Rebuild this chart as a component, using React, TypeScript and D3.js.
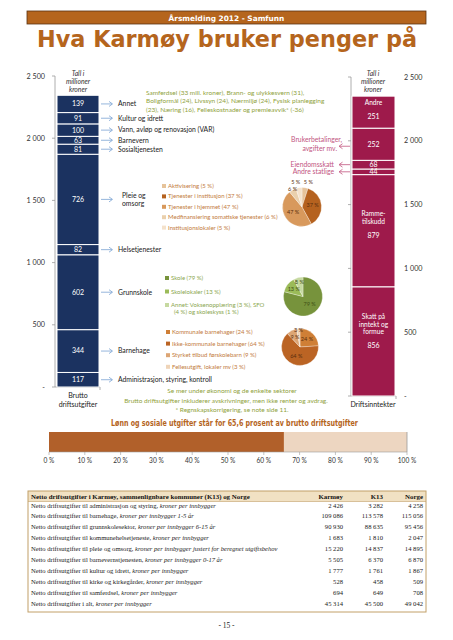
import React from "react";
import * as d3 from "d3";

// ---------- DATA ----------
const leftCategories = [
  "Administrasjon, styring, kontroll",
  "Barnehage",
  "Grunnskole",
  "Helsetjenester",
  "Pleie og\nomsorg",
  "Sosialtjenesten",
  "Barnevern",
  "Vann, avløp og renovasjon (VAR)",
  "Kultur og idrett",
  "Annet",
];
const leftValues = [117, 344, 602, 82, 726, 81, 63, 100, 91, 139];

const rightCategories = [
  "Skatt på\ninntekt og\nformue",
  "Ramme-\ntilskudd",
  "Andre statlige",
  "Eiendomsskatt",
  "Brukerbetalinger,\navgifter mv.",
  "Andre",
];
const rightValues = [856, 879, 44, 68, 252, 251];
const rightInside = [true, true, false, false, false, true];

const axisTicks = [0, 500, 1000, 1500, 2000, 2500];

const annetText = [
  "Samferdsel (33 mill. kroner), Brann- og ulykkesvern (31),",
  "Boligformål (24),  Livssyn (24), Nærmiljø (24), Fysisk planlegging",
  "(23), Næring (16), Felleskostnader og premieavvik* (-36)",
];

const pleieLabels = [
  "Aktivisering (5 %)",
  "Tjenester i institusjon (37 %)",
  "Tjenester i hjemmet (47 %)",
  "Medfinansiering somatiske tjenester (6 %)",
  "Institusjonslokaler (5 %)",
];
const pleieValues = [5, 37, 47, 6, 5];
const pleieColors = ["#e6c39a", "#b5621f", "#d8995c", "#ead0ad", "#f4e2cc"];

const skoleLabels = [
  "Skole (79 %)",
  "Skolelokaler (13 %)",
  "Annet: Voksenopplæring (3 %), SFO\n(4 %) og skoleskyss (1 %)",
];
const skoleValues = [79, 13, 8];
const skoleColors = ["#77933c", "#9bbb59", "#c6d9a0"];

const bhgLabels = [
  "Kommunale barnehager (24 %)",
  "Ikke-kommunale barnehager (64 %)",
  "Styrket tilbud førskolebarn (9 %)",
  "Fellesutgift, lokaler mv (3 %)",
];
const bhgValues = [24, 64, 9, 3];
const bhgColors = ["#cf7f36", "#bb6424", "#dca574", "#efd4b8"];

const notes = [
  "Se mer under økonomi og de enkelte sektorer",
  "Brutto driftsutgifter  inkluderer avskrivninger, men ikke renter og avdrag.",
  "* Regnskapskorrigering, se note side 11.",
];

const salaryShare = 0.656;
const percentTicks = [0, 0.1, 0.2, 0.3, 0.4, 0.5, 0.6, 0.7, 0.8, 0.9, 1];

const tableHeader = ["Netto driftsutgifter i Karmøy, sammenlignbare kommuner (K13) og Norge", "Karmøy", "K13", "Norge"];
const rowMain = [
  "Netto driftsutgifter til administrasjon og styring, ",
  "Netto driftsutgifter til barnehage, ",
  "Netto driftsutgifter til grunnskolesektor, ",
  "Netto driftsutgifter til kommunehelsetjeneste, ",
  "Netto driftsutgifter til pleie og omsorg, ",
  "Netto driftsutgifter til barnevernstjenesten, ",
  "Netto driftsutgifter til kultur og idrett, ",
  "Netto driftsutgifter til kirke og kirkegårder, ",
  "Netto driftsutgifter til samferdsel, ",
  "Netto driftsutgifter i alt, ",
];
const rowUnit = [
  "kroner per innbygger",
  "kroner per innbygger 1-5 år",
  "kroner per innbygger 6-15 år",
  "kroner per innbygger",
  "kroner per innbygger justert for beregnet utgiftsbehov",
  "kroner per innbygger 0-17 år",
  "kroner per innbygger",
  "kroner per innbygger",
  "kroner per innbygger",
  "kroner per innbygger",
];
const karmoy = [2426, 109086, 90930, 1683, 15220, 5505, 1777, 528, 694, 45314];
const k13 = [3282, 113578, 88635, 1810, 14837, 6370, 1761, 458, 649, 45500];
const norge = [4258, 115056, 95456, 2047, 14895, 6870, 1867, 509, 708, 49042];

// ---------- STYLE ----------
const LATO = "Lato, 'Open Sans', sans-serif";
const DJ = "'DejaVu Sans', Verdana, sans-serif";
const SERIF = "'Liberation Serif', 'Times New Roman', serif";
const BROWN = "#b5651d";
const NAVY = "#1b3260";
const CRIMSON = "#9e1a4b";
const GREEN_TXT = "#8fa23c";
const PINK = "#c2557f";
const ARROW_BLUE = "#7ba3d3";

const fmt = (n: number) => d3.format(",")(n).replace(/,/g, "\u00a0");

function stackSegs(values: number[]) {
  const ends = Array.from(d3.cumsum(values));
  return values.map((v, i) => ({ v, i, y0: ends[i] - v, y1: ends[i] }));
}

function Pie({ cx, cy, r, values, colors, textColor, smallOutside }: any) {
  const pie = d3.pie<number>().sort(null).value((d) => d);
  const arcs = pie(values);
  const arc = d3.arc<any>().innerRadius(0).outerRadius(r);
  return (
    <g transform={`translate(${cx},${cy})`}>
      {arcs.map((a, i) => (
        <path key={i} d={arc(a) as string} fill={colors[i]} stroke="#fff" strokeWidth={0.3} />
      ))}
      {arcs.map((a, i) => {
        const v = a.data as number;
        let x: number, y: number;
        if (smallOutside && v <= 6) {
          const rr = v <= 5 ? r + 5 : r;
          const c = d3.arc<any>().innerRadius(rr).outerRadius(rr).centroid(a);
          x = c[0] + (v <= 5 ? Math.sign(c[0]) * 2.5 : 0);
          y = c[1];
        } else {
          const rr = v <= 3 ? r * 0.88 : v <= 8 ? r * 0.75 : v < 15 ? r * 0.6 : r * 0.55;
          const c = d3.arc<any>().innerRadius(rr).outerRadius(rr).centroid(a);
          x = c[0];
          y = c[1];
        }
        return (
          <text key={"t" + i} x={x} y={y} textAnchor="middle" dominantBaseline="middle"
            fontFamily={LATO} fontSize={5.5} fill={textColor}>
            {v} %
          </text>
        );
      })}
    </g>
  );
}

function Legend({ x, y, step, labels, colors, textColor }: any) {
  let yy = y;
  return (
    <g>
      {labels.map((lab: string, i: number) => {
        const lines = lab.split("\n");
        const y0 = yy;
        yy += step + (lines.length - 1) * 7;
        return (
          <g key={i}>
            <rect x={x} y={y0 - 4} width={4} height={4} fill={colors[i]} />
            {lines.map((ln, j) => (
              <text key={j} x={x + 6 + (j > 0 ? 3 : 0)} y={y0 + j * 7} fontFamily={LATO} fontSize={6} fill={textColor}>
                {ln}
              </text>
            ))}
          </g>
        );
      })}
    </g>
  );
}

export default function App() {
  const yL = d3.scaleLinear().domain([0, 2500]).range([387, 76]);
  const yR = d3.scaleLinear().domain([0, 2500]).range([396, 77]);
  const leftSegs = stackSegs(leftValues);
  const rightSegs = stackSegs(rightValues);
  const xP = d3.scaleLinear().domain([0, 1]).range([49, 407]);

  const LBX0 = 57, LBX1 = 99, LAX = 55;
  const RBX0 = 352, RBX1 = 395, RAX = 351;

  const tableTop = 491, tableBottom = 612, rowH = 10.9;

  return (
    <svg width={453} height={640} style={{ position: "absolute", left: 0, top: 0, background: "#fff" }}>
      {/* Header band */}
      <rect x={27} y={11} width={399} height={13} fill={BROWN} stroke="#5b3212" strokeWidth={0.8} />
      <text x={226.5} y={20.8} textAnchor="middle" fontFamily={DJ} fontWeight="bold" fontSize={7.4} fill="#fff">
        Årsmelding 2012 - Samfunn
      </text>
      <text x={37} y={47} fontFamily={DJ} fontWeight="bold" fontSize={23} fill={BROWN}
        textLength={380} lengthAdjust="spacingAndGlyphs">
        Hva Karmøy bruker penger på
      </text>

      {/* Left axis */}
      <line x1={LAX} x2={LAX} y1={yL(2500)} y2={yL(0)} stroke="#9a9a9a" strokeWidth={0.8} />
      <line x1={LAX} x2={LBX1 + 1} y1={yL(0)} y2={yL(0)} stroke="#9a9a9a" strokeWidth={0.8} />
      <line x1={LBX1 + 1} x2={LBX1 + 1} y1={yL(0)} y2={yL(0) + 3} stroke="#9a9a9a" strokeWidth={0.8} />
      {axisTicks.map((t) => (
        <g key={t}>
          <line x1={LAX - 3} x2={LAX} y1={yL(t)} y2={yL(t)} stroke="#9a9a9a" strokeWidth={0.8} />
          <text x={45} y={yL(t)} dy="0.35em" textAnchor="end" fontFamily={LATO} fontSize={7.2} fill="#333">
            {t === 0 ? "-" : fmt(t)}
          </text>
        </g>
      ))}
      {/* Left bar */}
      {leftSegs.map((s) => (
        <rect key={s.i} x={LBX0} width={LBX1 - LBX0} y={yL(s.y1)} height={yL(s.y0) - yL(s.y1)}
          fill={NAVY} stroke="#fff" strokeWidth={1} />
      ))}
      {leftSegs.map((s) => {
        const cy = (yL(s.y0) + yL(s.y1)) / 2;
        const lines = leftCategories[s.i].split("\n");
        return (
          <g key={"l" + s.i}>
            <text x={(LBX0 + LBX1) / 2} y={cy} dy="0.35em" textAnchor="middle" fontFamily={LATO} fontSize={7} fill="#fff">
              {s.v}
            </text>
            <line x1={101} x2={112} y1={cy} y2={cy} stroke={ARROW_BLUE} strokeWidth={0.8} />
            <path d={`M${109},${cy - 2.5}L${112.5},${cy}L${109},${cy + 2.5}`} fill="none" stroke={ARROW_BLUE} strokeWidth={0.8} />
            {lines.map((ln, j) => (
              <text key={j} x={lines.length > 1 ? 122 : 118} y={cy + (j - (lines.length - 1) / 2) * 8.5} dy="0.35em"
                fontFamily={LATO} fontSize={6.8} fill="#1a1a1a">
                {ln}
              </text>
            ))}
          </g>
        );
      })}
      {["Tall i", "millioner", "kroner"].map((t, j) => (
        <g key={t}>
          <text x={78} y={76 + j * 8} textAnchor="middle" fontFamily={LATO} fontStyle="italic" fontSize={6.8} fill="#333">{t}</text>
          <text x={373} y={76 + j * 8} textAnchor="middle" fontFamily={LATO} fontStyle="italic" fontSize={6.8} fill="#333">{t}</text>
        </g>
      ))}
      <text x={78} y={398} textAnchor="middle" fontFamily={LATO} fontSize={7} fill="#222">Brutto</text>
      <text x={78} y={407} textAnchor="middle" fontFamily={LATO} fontSize={7} fill="#222">driftsutgifter</text>
      <text x={373} y={407} textAnchor="middle" fontFamily={LATO} fontSize={7} fill="#222">Driftsinntekter</text>

      {/* Annet details */}
      {annetText.map((t, j) => (
        <text key={j} x={146} y={95 + j * 8.3} fontFamily={LATO} fontSize={6.5} fill={GREEN_TXT}>{t}</text>
      ))}

      {/* Right axis */}
      <line x1={RAX} x2={RAX} y1={yR(2500)} y2={yR(0)} stroke="#9a9a9a" strokeWidth={0.8} />
      <line x1={RAX} x2={RBX1 + 1} y1={yR(0)} y2={yR(0)} stroke="#9a9a9a" strokeWidth={0.8} />
      <line x1={RBX1 + 1} x2={RBX1 + 1} y1={yR(0)} y2={yR(0) + 3} stroke="#9a9a9a" strokeWidth={0.8} />
      {axisTicks.map((t) => (
        <g key={t}>
          <line x1={RAX - 3} x2={RAX} y1={yR(t)} y2={yR(t)} stroke="#9a9a9a" strokeWidth={0.8} />
          <text x={404} y={yR(t)} dy="0.35em" fontFamily={LATO} fontSize={7.2} fill="#333">
            {t === 0 ? "-" : fmt(t)}
          </text>
        </g>
      ))}
      {rightSegs.map((s) => (
        <rect key={s.i} x={RBX0} width={RBX1 - RBX0} y={yR(s.y1)} height={yR(s.y0) - yR(s.y1)}
          fill={CRIMSON} stroke="#fff" strokeWidth={1} />
      ))}
      {rightSegs.map((s) => {
        const cy = (yR(s.y0) + yR(s.y1)) / 2;
        const mid = (RBX0 + RBX1) / 2;
        const lines = rightCategories[s.i].split("\n");
        if (rightInside[s.i]) {
          const n = lines.length;
          return (
            <g key={"r" + s.i}>
              {lines.map((ln, j) => (
                <text key={j} x={mid} y={cy - 7 - (n - 1 - j) * 7.5} textAnchor="middle" fontFamily={LATO} fontSize={6.6} fill="#fff">{ln}</text>
              ))}
              <text x={mid} y={cy + 7} textAnchor="middle" fontFamily={LATO} fontSize={7} fill="#fff">{s.v}</text>
            </g>
          );
        }
        const multi = lines.length > 1;
        const ay = multi ? cy + 2 : cy;
        return (
          <g key={"r" + s.i}>
            <text x={mid} y={cy} dy="0.35em" textAnchor="middle" fontFamily={LATO} fontSize={7} fill="#fff">{s.v}</text>
            <line x1={339.5} x2={350} y1={ay} y2={ay} stroke={PINK} strokeWidth={0.8} />
            <path d={`M${342.5},${ay - 2.5}L${339},${ay}L${342.5},${ay + 2.5}`} fill="none" stroke={PINK} strokeWidth={0.8} />
            {lines.map((ln, j) => (
              <text key={j} x={multi ? 342 - j * 5 : 334} y={multi ? cy - 4.5 + j * 8.5 : cy} dy="0.35em"
                textAnchor="end" fontFamily={LATO} fontSize={6.8} fill={PINK}>
                {ln}
              </text>
            ))}
          </g>
        );
      })}

      {/* Pies + legends */}
      <Legend x={162} y={188} step={10.4} labels={pleieLabels} colors={pleieColors} textColor="#c27a3c" />
      <Pie cx={302} cy={207} r={19.5} values={pleieValues} colors={pleieColors} textColor="#5a2e0e" smallOutside />
      <Legend x={165} y={280} step={13.5} labels={skoleLabels} colors={skoleColors} textColor="#8aa64e" />
      <Pie cx={303} cy={296.5} r={19.5} values={skoleValues} colors={skoleColors} textColor="#3f4f14" />
      <Legend x={166} y={334} step={11.6} labels={bhgLabels} colors={bhgColors} textColor="#c27a3c" />
      <Pie cx={300} cy={347} r={18.5} values={bhgValues} colors={bhgColors} textColor="#5a2e0e" />

      {/* Notes */}
      {notes.map((t, j) => (
        <text key={j} x={j === 1 ? 226 : 232} y={393 + j * 9.5} textAnchor="middle" fontFamily={LATO} fontSize={6.5} fill={GREEN_TXT}>{t}</text>
      ))}

      {/* Salary bar */}
      <text x={111} y={426} fontFamily={DJ} fontWeight="bold" fontSize={8.2} fill={BROWN}
        textLength={247} lengthAdjust="spacingAndGlyphs">
        Lønn og sosiale utgifter står for 65,6 prosent av brutto driftsutgifter
      </text>
      <rect x={xP(0)} y={432} width={xP(1) - xP(0)} height={20} fill="#edd6c1" />
      <rect x={xP(0)} y={432} width={xP(salaryShare) - xP(0)} height={20} fill="#b1602a" />
      <line x1={xP(1)} x2={xP(1)} y1={432} y2={452} stroke="#9a9a9a" strokeWidth={0.8} />
      <line x1={xP(0)} x2={xP(1)} y1={452} y2={452} stroke="#9a9a9a" strokeWidth={0.6} />
      {percentTicks.map((t) => (
        <g key={t}>
          <line x1={xP(t)} x2={xP(t)} y1={452} y2={455} stroke="#9a9a9a" strokeWidth={0.6} />
          <text x={xP(t)} y={463} textAnchor="middle" fontFamily={LATO} fontSize={6.6} fill="#333">
            {Math.round(t * 100)} %
          </text>
        </g>
      ))}

      {/* Table */}
      <rect x={28} y={tableTop} width={398} height={10.5} fill="#f1e1c3" />
      <rect x={28} y={tableTop} width={398} height={tableBottom - tableTop} fill="none" stroke="#c2a068" strokeWidth={1} />
      <line x1={28} x2={426} y1={tableTop + 10.5} y2={tableTop + 10.5} stroke="#c2a068" strokeWidth={0.6} />
      <text x={31} y={tableTop + 7.6} fontFamily={SERIF} fontWeight="bold" fontSize={6.9} fill="#111">{tableHeader[0]}</text>
      {[343, 383, 423].map((x, k) => (
        <text key={k} x={x} y={tableTop + 7.6} textAnchor="end" fontFamily={SERIF} fontWeight="bold" fontSize={6.9} fill="#111">
          {tableHeader[k + 1]}
        </text>
      ))}
      {rowMain.map((m, i) => {
        const y = 507.5 + i * rowH;
        return (
          <g key={i}>
            <text x={31} y={y} fontFamily={SERIF} fontSize={6.6} fill="#222">
              {m}
              <tspan fontStyle="italic">{rowUnit[i]}</tspan>
            </text>
            <text x={343} y={y} textAnchor="end" fontFamily={SERIF} fontSize={6.6} fill="#222">{fmt(karmoy[i])}</text>
            <text x={383} y={y} textAnchor="end" fontFamily={SERIF} fontSize={6.6} fill="#222">{fmt(k13[i])}</text>
            <text x={423} y={y} textAnchor="end" fontFamily={SERIF} fontSize={6.6} fill="#222">{fmt(norge[i])}</text>
          </g>
        );
      })}
      <text x={226.5} y={628} textAnchor="middle" fontFamily={SERIF} fontSize={7.5} fill="#222">- 15 -</text>
    </svg>
  );
}
